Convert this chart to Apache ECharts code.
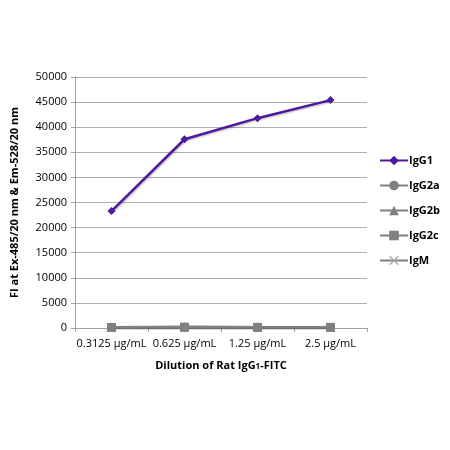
<!DOCTYPE html>
<html><head><meta charset="utf-8">
<script src="https://cdn.jsdelivr.net/npm/echarts@6/dist/echarts.min.js"></script>
<style>html,body{margin:0;padding:0;background:#fff}#c{width:450px;height:450px}</style>
</head><body><div id="c"></div>
<script>
var categories = ['0.3125 µg/mL', '0.625 µg/mL', '1.25 µg/mL', '2.5 µg/mL'];
var seriesNames = ['IgG1', 'IgG2a', 'IgG2b', 'IgG2c', 'IgM'];
var igg1 = [23300, 37600, 41800, 45400];
var igg2a = [150, 200, 150, 150];
var igg2b = [120, 180, 140, 130];
var igg2c = [100, 150, 120, 120];
var igm = [90, 140, 110, 110];
var yTicks = [0, 50000, 5000];

var purple = '#4b1a9e';
var gray = '#808080';
var font = 'Open Sans';
var xShape = 'path://M0,1L1,0L5,4L9,0L10,1L6,5L10,9L9,10L5,6L1,10L0,9L4,5Z';
var symbols = ['diamond', 'circle', 'triangle', 'rect', xShape];
var sizes = [8, 9, 9, 9, 7];
var colors = [purple, gray, gray, gray, '#a8a8a8'];
var datas = [igg1, igg2a, igg2b, igg2c, igm];

var series = seriesNames.map(function (n, i) {
  return {
    name: n, type: 'line', data: datas[i],
    symbol: symbols[i], symbolSize: sizes[i],
    itemStyle: { color: colors[i] },
    lineStyle: { color: i === 4 ? gray : colors[i], width: 2.5, shadowColor: 'rgba(0,0,0,0.25)', shadowBlur: 2, shadowOffsetX: 1, shadowOffsetY: 1 },
    z: 10 - i
  };
});

var chart = echarts.init(document.getElementById('c'));
chart.setOption({
  animation: false,
  grid: { left: 75, right: 83, top: 77, bottom: 122 },
  legend: {
    orient: 'vertical', left: 374, top: 150, itemGap: 14, itemWidth: 28, itemHeight: 12,
    textStyle: { fontFamily: font, fontWeight: 'bold', fontSize: 11, color: '#000', padding: [0, 0, 0, -4] },
    data: seriesNames
  },
  xAxis: {
    type: 'category', data: categories, boundaryGap: true,
    axisLine: { lineStyle: { color: '#a0a0a0' } },
    axisTick: { show: true, alignWithLabel: false, length: 4, lineStyle: { color: '#a0a0a0' } },
    axisLabel: { fontFamily: font, fontSize: 11, color: '#000', margin: 10, interval: 0 },
    name: '{a|Dilution of Rat IgG}{b|1}{a|-FITC}', nameLocation: 'middle', nameGap: 32,
    nameTextStyle: { rich: {
      a: { fontFamily: font, fontWeight: 'bold', fontSize: 11, color: '#000' },
      b: { fontFamily: font, fontWeight: 'bold', fontSize: 8, color: '#000', verticalAlign: 'bottom', padding: [3, 0, 0, 0] }
    } }
  },
  yAxis: {
    type: 'value', min: yTicks[0], max: yTicks[1], interval: yTicks[2],
    axisLine: { show: true, lineStyle: { color: '#a0a0a0' } },
    axisTick: { show: true, length: 4, lineStyle: { color: '#a0a0a0' } },
    axisLabel: { fontFamily: font, fontSize: 11, color: '#000', margin: 8, formatter: function (v) { return String(v); } },
    splitLine: { lineStyle: { color: '#b0b0b0' } },
    name: 'FI at Ex-485/20 nm & Em-528/20 nm', nameLocation: 'middle', nameGap: 55,
    nameTextStyle: { fontFamily: font, fontWeight: 'bold', fontSize: 11, color: '#000' }
  },
  series: series
});
</script>
</body></html>
